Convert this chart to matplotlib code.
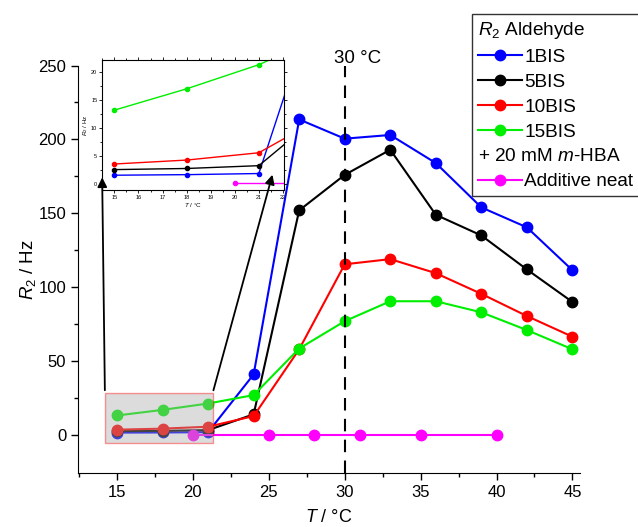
import numpy as np
import matplotlib
matplotlib.use("Agg")
import matplotlib.pyplot as plt
from matplotlib.patches import Rectangle
from matplotlib.lines import Line2D

plt.rcParams['font.family'] = ['Liberation Sans', 'DejaVu Sans']
plt.rcParams['mathtext.fontset'] = 'custom'
plt.rcParams['mathtext.rm'] = 'Liberation Sans'
plt.rcParams['mathtext.it'] = 'Liberation Sans:italic'

# temperatures (°C) and R2 values (Hz)
temps = [15, 18, 21, 24, 27, 30, 33, 36, 39, 42, 45]
r2_1bis = [1.6, 1.7, 1.9, 41, 213.5, 200.5, 203, 184, 154, 140.5, 111.5]
r2_5bis = [2.6, 2.8, 3.3, 14, 152, 176, 193, 149, 135, 112, 90]
r2_10bis = [3.6, 4.3, 5.6, 12.8, 58, 115.5, 119, 109.5, 95.5, 80.5, 66.5]
r2_15bis = [13.2, 17.0, 21.3, 27, 58.5, 77, 90.5, 90.5, 83, 71, 58]
temps_add = [20, 25, 28, 31, 35, 40]
r2_add = [0.2, 0.2, 0.2, 0.2, 0.2, 0.2]

series = [("1BIS", r2_1bis, "#0000ff"),
          ("5BIS", r2_5bis, "#000000"),
          ("10BIS", r2_10bis, "#ff0000"),
          ("15BIS", r2_15bis, "#00ee00")]

fig = plt.figure(figsize=(6.38, 5.27), dpi=100)
ax = fig.add_axes([0.1223, 0.1025, 0.7868, 0.7732])

for name, vals, col in series:
    ax.plot(temps, vals, color=col, lw=1.5, marker='o', ms=7.5, label=name)
ax.plot(temps_add, r2_add, color="#ff00ff", lw=1.5, marker='o', ms=7.5,
        label="Additive neat")

ax.set_xlim(12.43, 45.5)
ax.set_ylim(-25.7, 250)
ax.spines['top'].set_visible(False)
ax.spines['right'].set_visible(False)
ax.set_xticks([15, 20, 25, 30, 35, 40, 45])
ax.set_xticks(np.arange(12.5, 45.6, 2.5), minor=True)
ax.set_yticks([0, 50, 100, 150, 200, 250])
ax.set_yticks([25, 75, 125, 175, 225], minor=True)
ax.tick_params(which='major', direction='out', length=5, width=1, labelsize=12)
ax.tick_params(which='minor', direction='out', length=3, width=1)
ax.set_xlabel("$T$ / °C", fontsize=13)
ax.set_ylabel("$R_2$ / Hz", fontsize=13.5)
ax.xaxis.set_label_coords(0.5, -0.088)
ax.yaxis.set_label_coords(-0.08, 0.5)

# 30 °C marker
ax.plot([30, 30], [-25.7, 250], color='k', lw=1.5, ls=(0, (6, 4)), clip_on=False)
ax.text(29.3, 249.3, "30 °C", fontsize=13.5, ha='left', va='bottom')

# zoom box
ax.add_patch(Rectangle((14.2, -5.4), 7.1, 33.8, facecolor='#a9a9a9', alpha=0.4,
                       edgecolor='#ff0000', lw=1, zorder=6))

# inset
axins = ax.inset_axes([0.048, 0.694, 0.3625, 0.319])
for name, vals, col in series:
    axins.plot(temps, vals, color=col, lw=1, marker='o', ms=3)
axins.plot(temps_add, r2_add, color="#ff00ff", lw=1, marker='o', ms=3)
axins.set_xlim(14.49, 22.05)
axins.set_ylim(-1.07, 22.1)
axins.set_xticks(range(15, 23))
axins.set_xticks(np.arange(14.5, 22.1, 0.5), minor=True)
axins.set_yticks([0, 5, 10, 15, 20])
axins.set_yticks([2.5, 7.5, 12.5, 17.5], minor=True)
axins.tick_params(which='both', labelsize=4, length=2, width=0.6, pad=1.5,
                  top=True, right=True)
axins.tick_params(which='minor', length=1.2)
axins.set_xlabel("$T$ / °C", fontsize=4.5, labelpad=1)
axins.set_ylabel("$R_2$ / Hz", fontsize=4.5, labelpad=1)
for sp in axins.spines.values():
    sp.set_linewidth(0.8)

# arrows from zoom box to inset
arrow = dict(arrowstyle='-|>', color='k', lw=1.3, mutation_scale=14)
ax.annotate('', xy=(0.0, 0.12), xycoords=axins.transAxes, xytext=(14.2, 28.4),
            textcoords='data', arrowprops=arrow, zorder=10)
ax.annotate('', xy=(0.94, 0.14), xycoords=axins.transAxes, xytext=(21.3, 28.4),
            textcoords='data', arrowprops=arrow, zorder=10)

# legend
h = ax.get_legend_handles_labels()[0]
blank = Line2D([], [], color='none')
handles = [blank] + h[:4] + [blank, h[4]]
labels = ["$R_2$ Aldehyde", "1BIS", "5BIS", "10BIS", "15BIS",
          "+ 20 mM $m$-HBA", "Additive neat"]
leg = fig.legend(handles, labels, loc='upper left', bbox_to_anchor=(0.74, 0.973),
                 borderaxespad=0, fontsize=13.7, handlelength=2.3, handletextpad=0.15,
                 labelspacing=0.4, borderpad=0.3, frameon=True, fancybox=False,
                 edgecolor='k')
leg.get_frame().set_linewidth(1)
rows = leg._legend_handle_box.get_children()[0].get_children()
for i in (0, 5):
    rows[i]._children = [rows[i]._children[1]]

fig.savefig("out.png", dpi=100)
